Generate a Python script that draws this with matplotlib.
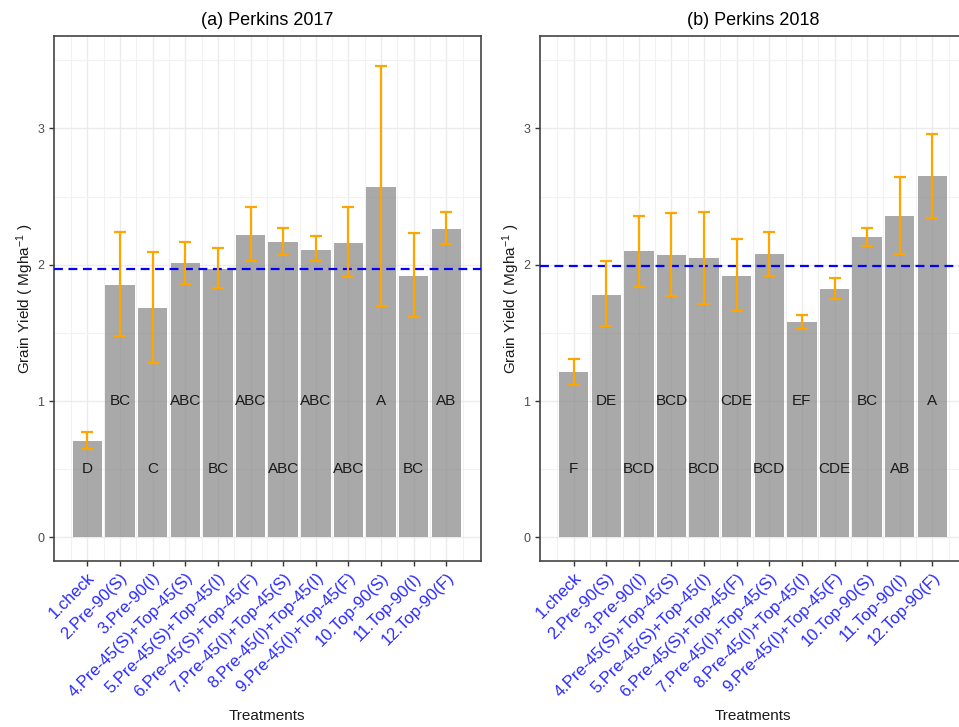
import numpy as np
import matplotlib
matplotlib.use("Agg")
import matplotlib.pyplot as plt

plt.rcParams['font.family'] = ['Liberation Sans', 'DejaVu Sans']
plt.rcParams['mathtext.fontset'] = 'custom'
plt.rcParams['mathtext.rm'] = 'Liberation Sans'
plt.rcParams['mathtext.it'] = 'Liberation Sans:italic'
plt.rcParams['mathtext.default'] = 'regular'

treatments = ['1.check', '2.Pre-90(S)', '3.Pre-90(I)', '4.Pre-45(S)+Top-45(S)',
              '5.Pre-45(S)+Top-45(I)', '6.Pre-45(S)+Top-45(F)', '7.Pre-45(I)+Top-45(S)',
              '8.Pre-45(I)+Top-45(I)', '9.Pre-45(I)+Top-45(F)', '10.Top-90(S)',
              '11.Top-90(I)', '12.Top-90(F)']

# Perkins 2017
yield_2017 = [0.71, 1.85, 1.68, 2.01, 1.97, 2.22, 2.17, 2.11, 2.16, 2.57, 1.92, 2.26]
err_hi_2017 = [0.77, 2.24, 2.09, 2.17, 2.12, 2.42, 2.27, 2.21, 2.42, 3.46, 2.23, 2.39]
err_lo_2017 = [0.65, 1.48, 1.28, 1.86, 1.83, 2.03, 2.07, 2.03, 1.91, 1.70, 1.62, 2.15]
letters_2017 = ['D', 'BC', 'C', 'ABC', 'BC', 'ABC', 'ABC', 'ABC', 'ABC', 'A', 'BC', 'AB']
mean_2017 = 1.97

# Perkins 2018
yield_2018 = [1.21, 1.78, 2.10, 2.07, 2.05, 1.92, 2.08, 1.58, 1.82, 2.20, 2.36, 2.65]
err_hi_2018 = [1.31, 2.03, 2.36, 2.38, 2.39, 2.19, 2.24, 1.63, 1.90, 2.27, 2.64, 2.96]
err_lo_2018 = [1.12, 1.55, 1.84, 1.77, 1.71, 1.66, 1.92, 1.53, 1.75, 2.14, 2.08, 2.34]
letters_2018 = ['F', 'DE', 'BCD', 'BCD', 'BCD', 'CDE', 'BCD', 'EF', 'CDE', 'BC', 'AB', 'A']
mean_2018 = 1.99

letter_rows = [0.5, 1.0]


def panel(ax, title, vals, hi, lo, letters, mean):
    x = np.arange(1, len(vals) + 1)
    vals = np.array(vals)
    yerr = [vals - np.array(lo), np.array(hi) - vals]
    ax.bar(x, vals, width=0.9, color='#8c8c8c', alpha=0.75, zorder=2)
    ax.axhline(mean, color='blue', lw=1.6, ls=(0, (4, 2.5)), zorder=3)
    ax.errorbar(x, vals, yerr=yerr, fmt='none', ecolor='orange', elinewidth=1.6,
                capsize=4.5, capthick=1.6, zorder=4)
    for i, lab in enumerate(letters):
        ax.text(x[i], letter_rows[i % 2], lab, ha='center', va='center',
                fontsize=11, color='#1a1a1a', zorder=5)
    ax.set_xlim(-0.02, 13.05)
    ax.set_ylim(-0.176, 3.678)
    ax.set_xticks(x)
    ax.set_xticklabels(treatments, rotation=45, ha='right', va='top',
                       rotation_mode='anchor')
    ax.set_xticks(np.arange(0.5, 13.5, 1), minor=True)
    ax.set_yticks([0, 1, 2, 3])
    ax.set_yticks([0.5, 1.5, 2.5, 3.5], minor=True)
    ax.tick_params(axis='both', which='major', length=3.5, width=1, color='#333333')
    ax.tick_params(axis='y', which='major', labelsize=9, labelcolor='#4d4d4d')
    ax.tick_params(axis='x', which='major', labelsize=12, labelcolor='#2a2aff', pad=3)
    ax.tick_params(which='minor', length=0)
    ax.grid(True, which='major', color='#ebebeb', lw=1.0, zorder=0)
    ax.grid(True, which='minor', color='#f2f2f2', lw=0.8, zorder=0)
    ax.set_axisbelow(True)
    for s in ax.spines.values():
        s.set_color('#444444')
        s.set_linewidth(1.2)
    ax.set_title(title, fontsize=13, pad=8)
    ax.set_xlabel('Treatments', fontsize=11, color='#1a1a1a', labelpad=6)
    ax.set_ylabel('Grain Yield ( Mgha$^{-1}$ )', fontsize=11, color='#1a1a1a', labelpad=1)


fig = plt.figure(figsize=(9.59, 7.27), dpi=100)
ax1 = fig.add_axes([54 / 959, 1 - 561.3 / 727, 426.7 / 959, 525.3 / 727])
ax2 = fig.add_axes([540 / 959, 1 - 561.3 / 727, 426.0 / 959, 525.3 / 727])

panel(ax1, '(a) Perkins 2017', yield_2017, err_hi_2017, err_lo_2017, letters_2017, mean_2017)
panel(ax2, '(b) Perkins 2018', yield_2018, err_hi_2018, err_lo_2018, letters_2018, mean_2018)
ax2.set_xlim(-0.03, 13.03)

fig.savefig('out.png', dpi=100)
